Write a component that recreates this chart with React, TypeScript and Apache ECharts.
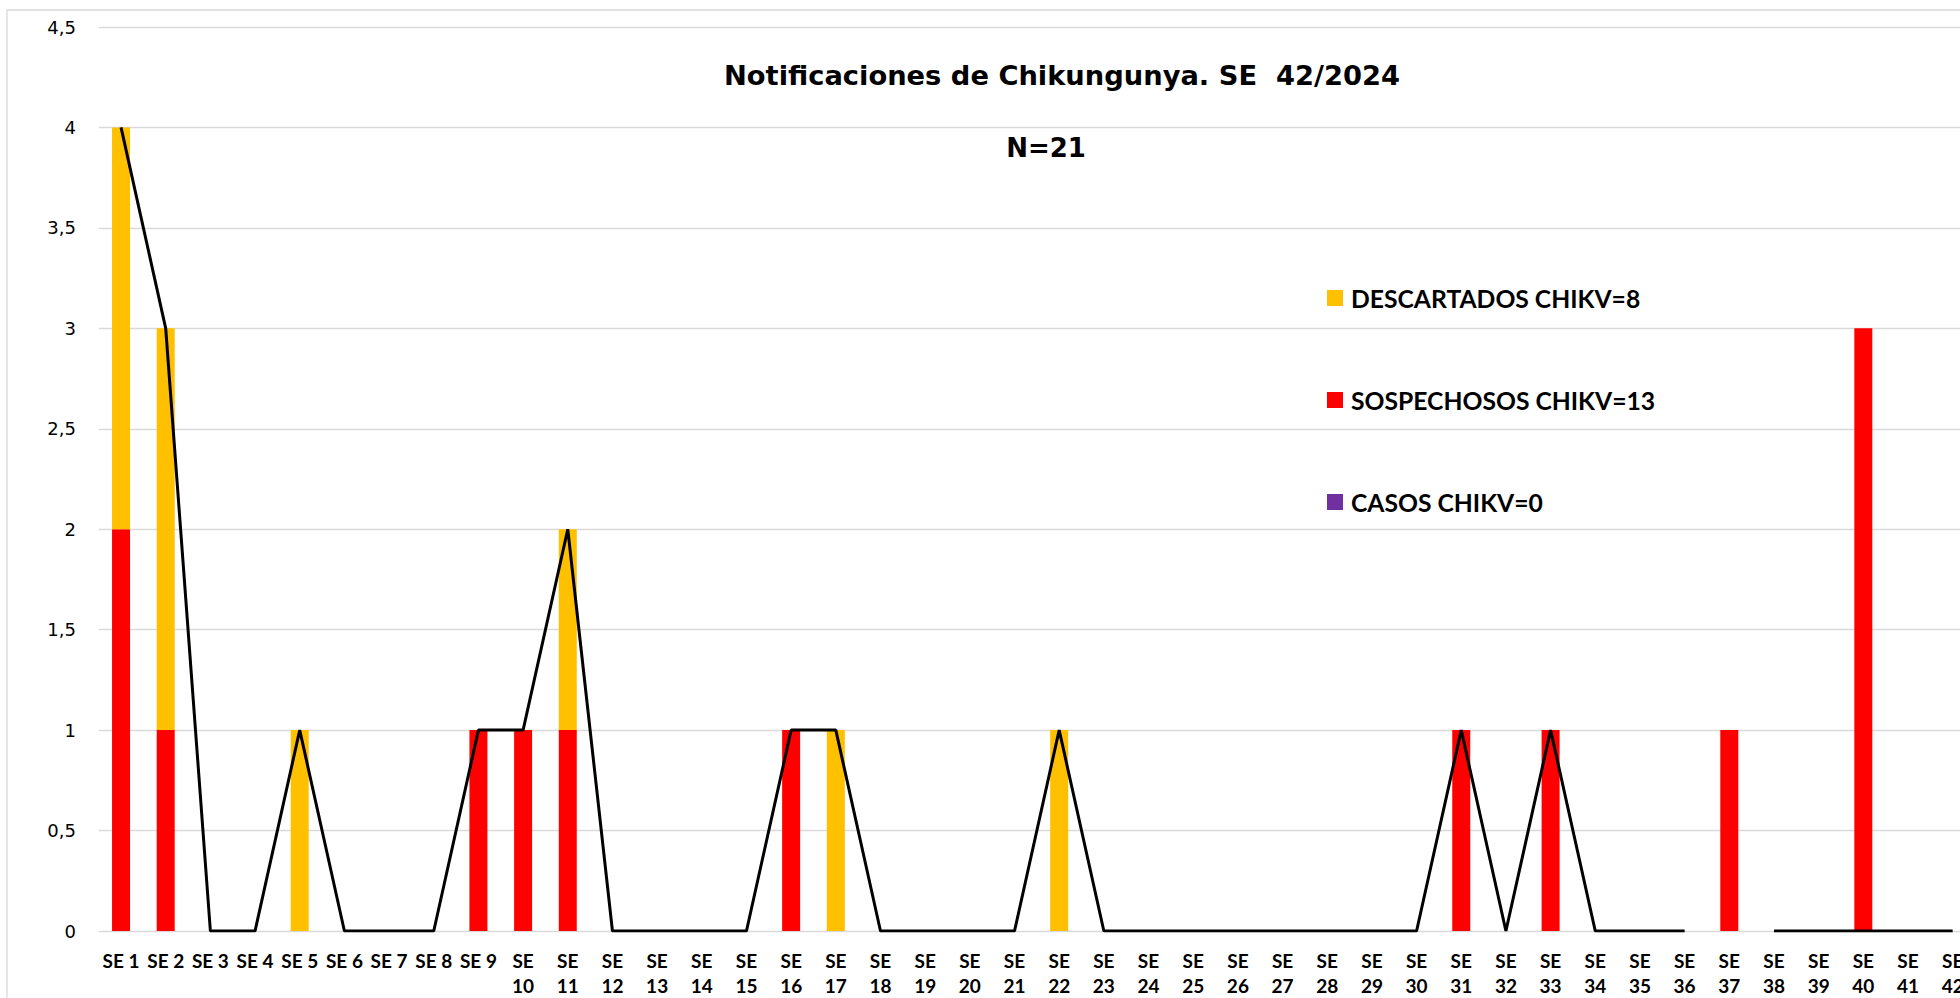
import React, { useEffect, useRef } from "react";
import * as echarts from "echarts";

const weeks = [
  "SE 1", "SE 2", "SE 3", "SE 4", "SE 5", "SE 6", "SE 7", "SE 8", "SE 9",
  "SE\n10", "SE\n11", "SE\n12", "SE\n13", "SE\n14", "SE\n15", "SE\n16", "SE\n17",
  "SE\n18", "SE\n19", "SE\n20", "SE\n21", "SE\n22", "SE\n23", "SE\n24", "SE\n25",
  "SE\n26", "SE\n27", "SE\n28", "SE\n29", "SE\n30", "SE\n31", "SE\n32", "SE\n33",
  "SE\n34", "SE\n35", "SE\n36", "SE\n37", "SE\n38", "SE\n39", "SE\n40", "SE\n41",
  "SE\n42",
];

// SE 1 ... SE 42
const sospechosos = [
  2, 1, 0, 0, 0, 0, 0, 0, 1, 1,
  1, 0, 0, 0, 0, 1, 0, 0, 0, 0,
  0, 0, 0, 0, 0, 0, 0, 0, 0, 0,
  1, 0, 1, 0, 0, 0, 1, 0, 0, 3,
  0, 0,
];
const descartados = [
  2, 2, 0, 0, 1, 0, 0, 0, 0, 0,
  1, 0, 0, 0, 0, 0, 1, 0, 0, 0,
  0, 1, 0, 0, 0, 0, 0, 0, 0, 0,
  0, 0, 0, 0, 0, 0, 0, 0, 0, 0,
  0, 0,
];
const casos = [
  0, 0, 0, 0, 0, 0, 0, 0, 0, 0,
  0, 0, 0, 0, 0, 0, 0, 0, 0, 0,
  0, 0, 0, 0, 0, 0, 0, 0, 0, 0,
  0, 0, 0, 0, 0, 0, 0, 0, 0, 0,
  0, 0,
];
const totalLine = [
  4, 3, 0, 0, 1, 0, 0, 0, 1, 1,
  2, 0, 0, 0, 0, 1, 1, 0, 0, 0,
  0, 1, 0, 0, 0, 0, 0, 0, 0, 0,
  1, 0, 1, 0, 0, 0, null, 0, 0, 0,
  0, 0,
];

const titleText = "Notificaciones de Chikungunya. SE  42/2024";
const subtitleText = "N=21";
const nameDescartados = "DESCARTADOS CHIKV=8";
const nameSospechosos = "SOSPECHOSOS CHIKV=13";
const nameCasos = "CASOS CHIKV=0";

export default function App() {
  const ref = useRef<HTMLDivElement>(null);

  useEffect(() => {
    if (!ref.current) return;
    const chart = echarts.init(ref.current, undefined, { renderer: "svg" });
    chart.setOption({
      animation: false,
      backgroundColor: "#ffffff",
      graphic: [
        {
          type: "rect",
          silent: true,
          shape: { x: 7, y: 10, width: 2100, height: 1100 },
          style: { fill: "none", stroke: "#D9D9D9", lineWidth: 1.3 },
        },
        {
          type: "text",
          x: 1062,
          y: 75,
          style: {
            text: titleText,
            fill: "#000",
            font: 'bold 27.3px "DejaVu Sans"',
            align: "center",
            verticalAlign: "middle",
            textAlign: "center",
            textVerticalAlign: "middle",
          },
        },
        {
          type: "text",
          x: 1046,
          y: 148,
          style: {
            text: subtitleText,
            fill: "#000",
            font: 'bold 26px "DejaVu Sans"',
            align: "center",
            verticalAlign: "middle",
            textAlign: "center",
            textVerticalAlign: "middle",
          },
        },
      ],
      legend: {
        orient: "vertical",
        left: 1327,
        top: 285,
        padding: 0,
        itemWidth: 16,
        itemHeight: 16,
        itemGap: 76,
        icon: "rect",
        selectedMode: false,
        data: [nameDescartados, nameSospechosos, nameCasos],
        textStyle: {
          fontFamily: "Lato",
          fontWeight: "bold",
          fontSize: 24.7,
          lineHeight: 26,
          color: "#000",
          padding: [0, 0, 0, 3],
        },
      },
      grid: {
        left: 98.7,
        right: 0,
        top: 27,
        bottom: 66,
        containLabel: false,
      },
      xAxis: {
        type: "category",
        data: weeks,
        axisLine: { show: false },
        axisTick: { show: false },
        axisLabel: {
          interval: 0,
          margin: 17,
          fontFamily: "Lato",
          fontWeight: "bold",
          fontSize: 19,
          lineHeight: 25,
          color: "#000",
        },
      },
      yAxis: {
        type: "value",
        min: 0,
        max: 4.5,
        interval: 0.5,
        axisLine: { show: false },
        axisTick: { show: false },
        splitLine: { lineStyle: { color: "#D9D9D9", width: 1.3 } },
        axisLabel: {
          margin: 22.7,
          fontFamily: "DejaVu Sans",
          fontSize: 18,
          color: "#000",
          formatter: (v: number) => String(v).replace(".", ","),
        },
      },
      series: [
        {
          name: nameSospechosos,
          type: "bar",
          stack: "notif",
          data: sospechosos,
          barWidth: 18,
          itemStyle: { color: "#FF0000" },
        },
        {
          name: nameDescartados,
          type: "bar",
          stack: "notif",
          data: descartados,
          barWidth: 18,
          itemStyle: { color: "#FFC000" },
        },
        {
          name: nameCasos,
          type: "bar",
          stack: "notif",
          data: casos,
          barWidth: 18,
          itemStyle: { color: "#7030A0" },
        },
        {
          name: "Total",
          type: "line",
          data: totalLine,
          connectNulls: false,
          symbol: "none",
          z: 5,
          lineStyle: { color: "#000000", width: 3 },
        },
      ],
    });
    return () => chart.dispose();
  }, []);

  return (
    <div
      style={{
        position: "absolute",
        left: 0,
        top: 0,
        width: 1960,
        height: 998,
        overflow: "hidden",
      }}
    >
      <div ref={ref} style={{ width: 1975, height: 998 }} />
    </div>
  );
}
